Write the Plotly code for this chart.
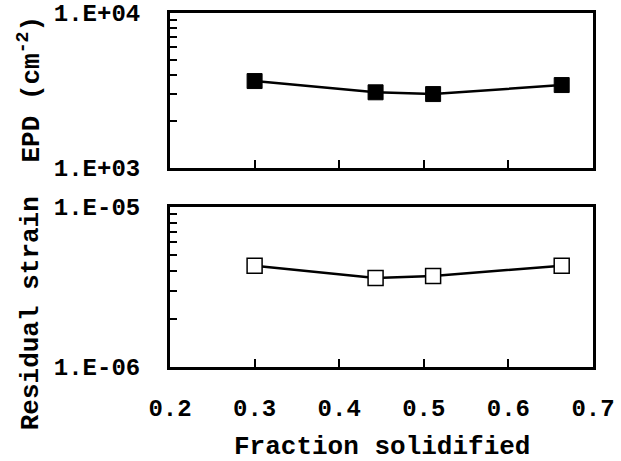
import plotly.graph_objects as go

# Fraction solidified at each sampling point
fraction = [0.300, 0.443, 0.511, 0.663]
# Etch pit density (cm^-2)
epd = [3640, 3080, 3000, 3430]
# Residual strain
strain = [4.3e-6, 3.6e-6, 3.7e-6, 4.3e-6]

x_ticks = [0.2, 0.3, 0.4, 0.5, 0.6, 0.7]
x_ticktext = ["0.2", "0.3", "0.4", "0.5", "0.6", "0.7"]
epd_ticks = [1e3, 1e4]
epd_ticktext = ["1.E+03", "1.E+04"]
epd_minor = [1e3 * k for k in range(2, 10)]
strain_ticks = [1e-6, 1e-5]
strain_ticktext = ["1.E-06", "1.E-05"]
strain_minor = [1e-6 * k for k in range(2, 10)]

FONT = "Liberation Mono, Courier New, monospace"

fig = go.Figure()

fig.add_trace(go.Scatter(
    x=fraction, y=epd, mode="lines+markers",
    line=dict(color="black", width=2.5),
    marker=dict(symbol="square", size=15, color="black",
                line=dict(color="black", width=1)),
    xaxis="x", yaxis="y", showlegend=False,
))
fig.add_trace(go.Scatter(
    x=fraction, y=strain, mode="lines+markers",
    line=dict(color="black", width=2.5),
    marker=dict(symbol="square", size=15, color="white",
                line=dict(color="black", width=1.5)),
    xaxis="x2", yaxis="y2", showlegend=False,
))

axis_common = dict(
    showline=True, linecolor="black", linewidth=3, mirror=True,
    showgrid=False, zeroline=False, ticks="inside", tickcolor="black",
    tickwidth=2, automargin=False,
)
minor_style = dict(ticks="inside", ticklen=7, tickwidth=2,
                   tickcolor="black", showgrid=False)

fig.update_layout(
    width=621, height=461,
    margin=dict(l=170, r=28, t=13, b=94),
    paper_bgcolor="white", plot_bgcolor="white",
    font=dict(family=FONT, color="black", size=24, weight="bold"),
    xaxis=dict(axis_common, domain=[0, 1], range=[0.2, 0.7],
               tickvals=x_ticks, showticklabels=False,
               ticklen=8, anchor="y"),
    yaxis=dict(axis_common, domain=[0.562, 1], type="log",
               range=[3, 4], tickvals=epd_ticks, ticktext=epd_ticktext,
               minor=dict(minor_style, tickvals=epd_minor),
               ticklen=7, ticklabelstandoff=22, anchor="x"),
    xaxis2=dict(axis_common, domain=[0, 1], range=[0.2, 0.7],
                tickvals=x_ticks, ticktext=x_ticktext,
                ticklen=8, ticklabelstandoff=17, anchor="y2"),
    yaxis2=dict(axis_common, domain=[0, 0.452], type="log",
                range=[-6, -5], tickvals=strain_ticks,
                ticktext=strain_ticktext,
                minor=dict(minor_style, tickvals=strain_minor),
                ticklen=7, ticklabelstandoff=22, anchor="x2"),
)

fig.add_annotation(
    text="EPD (cm<sup>-2</sup>)", textangle=-90,
    xref="paper", yref="paper", x=-0.33, y=0.785,
    xanchor="center", yanchor="middle", showarrow=False,
    font=dict(family=FONT, size=26, weight="bold"),
)
fig.add_annotation(
    text="Residual strain", textangle=-90,
    xref="paper", yref="paper", x=-0.33, y=0.153,
    xanchor="center", yanchor="middle", showarrow=False,
    font=dict(family=FONT, size=26, weight="bold"),
)
fig.add_annotation(
    text="Fraction solidified",
    xref="paper", yref="paper", x=0.5, y=-0.226,
    xanchor="center", yanchor="middle", showarrow=False,
    font=dict(family=FONT, size=26, weight="bold"),
)

fig.write_html("out.html")
